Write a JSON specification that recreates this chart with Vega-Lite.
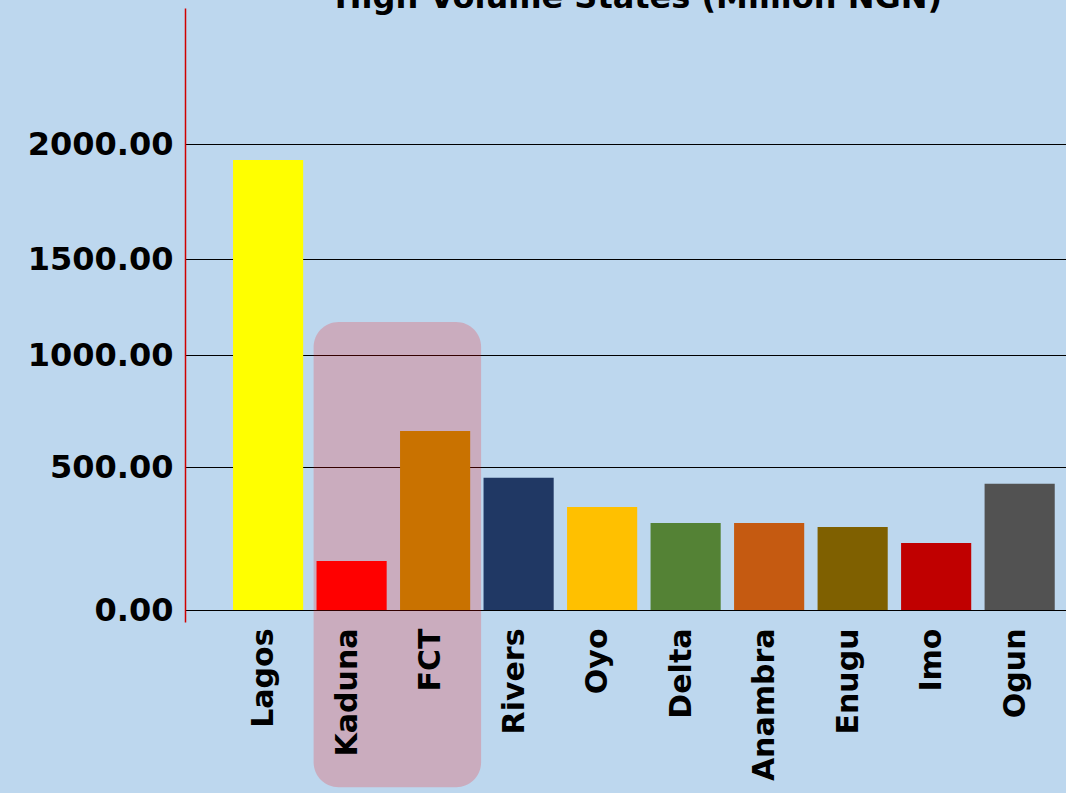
{
  "$schema": "https://vega.github.io/schema/vega-lite/v6.json",
  "width": 881,
  "height": 622,
  "autosize": {"type": "none"},
  "padding": {"left": 185, "top": 0, "right": 0, "bottom": 171},
  "background": "#BDD7EE",
  "title": {"text": "High Volume States (Million NGN)", "font": "DejaVu Sans", "fontSize": 32, "fontWeight": "bold", "color": "#000000", "anchor": "middle", "baseline": "alphabetic", "offset": 0, "dx": 13, "dy": 40},
  "config": {"view": {"stroke": null}, "axis": {"labelFont": "DejaVu Sans", "labelFontWeight": "bold", "labelColor": "#000000"}},
  "layer": [
    {
      "data": {"values": [{"from": "Kaduna", "to": "FCT", "top": 1172, "bottom": -620}]},
      "mark": {"type": "rect", "fill": "#FF0000", "opacity": 0.2, "cornerRadius": 25, "xOffset": -38, "x2Offset": 46},
      "encoding": {
        "x": {"field": "from", "type": "nominal", "scale": {"domain": ["Lagos", "Kaduna", "FCT", "Rivers", "Oyo", "Delta", "Anambra", "Enugu", "Imo", "Ogun"]}},
        "x2": {"field": "to"},
        "y": {"field": "top", "type": "quantitative", "scale": {"domain": [-42, 0, 500, 1000, 1500, 2000, 2591], "range": [622, 610, 467, 355, 259, 144, 8], "nice": false, "zero": false}},
        "y2": {"field": "bottom"}
      }
    },
    {
      "data": {"values": [
        {"state": "Lagos", "value": 1930},
        {"state": "Kaduna", "value": 171},
        {"state": "FCT", "value": 661},
        {"state": "Rivers", "value": 462},
        {"state": "Oyo", "value": 360},
        {"state": "Delta", "value": 304},
        {"state": "Anambra", "value": 304},
        {"state": "Enugu", "value": 290},
        {"state": "Imo", "value": 234},
        {"state": "Ogun", "value": 441}
      ]},
      "mark": {"type": "bar"},
      "encoding": {
        "x": {"field": "state", "type": "nominal", "sort": null,
          "scale": {"domain": ["Lagos", "Kaduna", "FCT", "Rivers", "Oyo", "Delta", "Anambra", "Enugu", "Imo", "Ogun"], "paddingInner": 0.16, "paddingOuter": 0.355, "align": 0.81},
          "axis": {"title": null, "labelAngle": -90, "labelFontSize": 30, "labelPadding": 6, "labelOffset": -4, "ticks": false, "domain": false, "labelAlign": "right", "labelBaseline": "middle"}},
        "y": {"field": "value", "type": "quantitative",
          "scale": {"domain": [-42, 0, 500, 1000, 1500, 2000, 2591], "range": [622, 610, 467, 355, 259, 144, 8], "nice": false, "zero": false},
          "axis": {"title": null, "values": [0, 500, 1000, 1500, 2000], "format": ".2f", "ticks": false, "labelPadding": 12, "labelFontSize": 32, "domainColor": "#D00000", "domainWidth": 1.5, "grid": true, "gridColor": "#000000", "gridWidth": 1, "gridOpacity": 1}},
        "color": {"field": "state", "type": "nominal", "legend": null,
          "scale": {"domain": ["Lagos", "Kaduna", "FCT", "Rivers", "Oyo", "Delta", "Anambra", "Enugu", "Imo", "Ogun"], "range": ["#FFFF00", "#FF0000", "#C97200", "#203864", "#FFC000", "#548235", "#C55A11", "#7F6000", "#C00000", "#525252"]}}
      }
    },
    {
      "mark": {"type": "rule", "color": "#D00000", "strokeWidth": 1.5},
      "encoding": {"y": {"datum": 0}}
    }
  ]
}
